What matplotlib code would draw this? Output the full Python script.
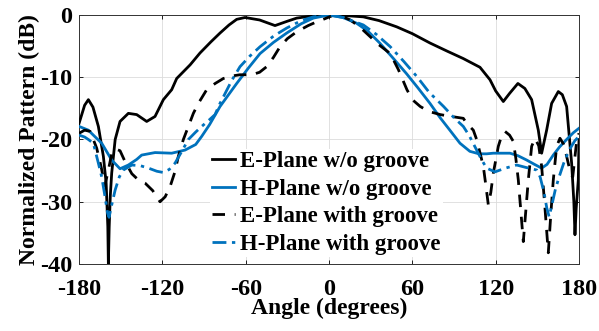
import matplotlib
matplotlib.use("Agg")
import matplotlib.pyplot as plt

# ---- data (angle in degrees, normalized pattern in dB) ----
e_wo_ang = [-180, -176, -173.3, -170, -166.1, -162.5, -160.5, -159.3, -158.9, -158.3, -157.5, -156.5, -154, -150.5,
            -144.5, -138.5, -131.3, -125.3, -119.3, -113.3, -109.7, -100, -92.9, -85, -78.5, -72, -66.5, -60.5,
            -50, -38.9, -30, -23.3, -12, 0, 12, 24.7, 36, 48.7, 60, 72.7, 85, 96.7, 108.7, 115.9, 120,
            125.5, 130, 136, 141, 145.9, 150.7, 153.1, 156.7, 160.3, 165.1, 168, 171.1, 174.7, 176.3, 177.1,
            178, 179.5, 180]
e_wo_db = [-17.4, -14.5, -13.6, -14.8, -17.9, -22.7, -27, -34, -40, -34, -29, -25.4, -20, -17.1,
           -15.8, -16, -17.1, -16.3, -13.6, -12, -10.2, -8, -6.1, -4.3, -2.9, -1.6, -0.7, -0.4,
           -0.8, -1.7, -1.0, -0.5, -0.15, 0, -0.1, -0.3, -0.9, -1.9, -3.0, -4.5, -5.8, -7, -8.4, -10.4, -12.2,
           -13.9, -12.6, -11, -11.8, -13.6, -18.5, -22.2, -18.5, -14.2, -12.3, -12.8, -14.7, -23.8, -30, -35.3,
           -31, -26.5, -20]

h_wo_ang = [-180, -173.3, -169.7, -163.7, -156.5, -150.5, -144.5, -138.5, -134.9, -125.3, -113.3, -103.7, -96,
            -91.7, -86, -78.5, -66.5, -58, -49.7, -40, -30.5, -20, -11.3, 0, 10, 19.7, 28, 36.5, 46, 55.7, 64,
            72.7, 80, 87, 94.3, 101.4, 108, 113.5, 118.3, 125.5, 130.3, 136, 142.3, 148, 153.1, 157, 161.5,
            166, 171.1, 176, 180]
h_wo_db = [-17.9, -18.5, -19.3, -20.6, -23.3, -24.7, -24.1, -23.2, -22.5, -22.1, -22.2, -21.7, -20.8,
           -19.5, -17.6, -14.7, -11, -8.5, -6.2, -4.4, -2.9, -1.4, -0.5, 0, -0.4, -1.3, -2.6, -4.5, -6.9, -9.4, -11.7,
           -14.2, -16.5, -18.5, -20.6, -21.9, -22.3, -22.3, -22.2, -22.2, -22.2, -22.6, -23.3, -24.0, -24.6, -24.0, -22.5,
           -21.2, -20, -18.9, -18.2]

e_w_ang = [-180, -176, -172, -167.3, -164, -161.5, -159, -156.5, -154, -150.5, -147, -142, -137.3, -132.5, -127,
           -121.7, -118, -114.5, -111, -108.5, -104.9, -101.3, -97.7, -94.1, -88.1, -82, -76.1, -70, -64.1, -55.7,
           -50, -44.9, -40, -35.3, -30, -23.3, -15, -8.9, -3, 3, 9, 15.3, 22, 29.7, 36, 44.1, 50, 56.1, 60,
           65.7, 72, 80.1, 88, 96.7, 99.1, 103.9, 106.3, 109, 111.1, 113, 114.7, 116.5, 118.3, 121.9, 124, 126.7,
           130, 132.7, 134.5, 136.3, 138.3, 139.9, 141.5, 143.5, 145.9, 148.3, 151, 153.1, 155.5, 157.9, 159.7,
           161.5, 163.9, 166.3, 169, 171.1, 174, 175.5, 178.3, 180]
e_w_db = [-19, -18.5, -18.7, -21.4, -24.5, -27.5, -25, -22.3, -21.5, -21.8, -23.5, -25.5, -26.5, -27, -28.2,
          -30, -29.2, -27.6, -25.2, -22.7, -20, -17.9, -15.8, -14.2, -12, -11, -10.2, -9.8, -9.6, -9.6,
          -9.2, -8.3, -6.8, -5.1, -3.8, -2.7, -1.7, -1.1, -0.6, -0.05, -0.2, -0.8, -1.9, -3.5, -4.8, -6.2, -8.8, -12, -13.6,
          -14.7, -15.5, -16, -16.3, -16.6, -17.4, -18.5, -20, -22.4, -24.3, -27.5, -30.5, -28.5, -25.4, -21.1, -19.6, -18.7,
          -19.3, -20.3, -23, -26.5, -32, -36.4, -32, -26.5, -21.1, -19.8, -21, -24.3, -31, -38.2, -32,
          -26.5, -21.1, -19.8, -20.8, -22.7, -25.5, -26, -20.3, -19]

h_w_ang = [-180, -176, -173.3, -169.7, -166.1, -163.7, -161.3, -159.5, -158.4, -157, -154, -151, -148.1, -142,
           -136, -130, -124, -119.3, -115, -110.9, -106, -101.3, -96, -91.7, -86, -82.1, -78.5, -70, -64.1, -57,
           -49.7, -40, -30.5, -20, -11.3, 0, 10, 24.7, 34, 44.1, 54, 63.3, 72, 82.5, 90, 96.7, 101, 106.3, 110,
           113.5, 119.5, 127, 135.1, 142, 149.5, 152, 154.9, 156.8, 158.5, 160.5, 163, 165.7, 169, 172.9, 177, 180]
h_w_db = [-19.3, -19.6, -20, -20.6, -23.8, -26, -29.2, -31.8, -32.5, -31, -28.1, -26, -24.9, -24.1,
          -24.2, -24.6, -25.1, -25.3, -24.8, -23.8, -21.9, -20, -18.8, -17.9, -16.8, -16, -14.2, -10.5, -8.3, -6.6,
          -5.1, -3.4, -2.1, -0.9, -0.3, 0, -0.4, -1.6, -3.1, -5.1, -7.5, -9.9, -12.4, -14.7, -16.5, -17.9, -19.4, -21.7, -23.3,
          -24.6, -25.2, -24.6, -24.1, -24.5, -24.9, -26, -28.6, -31, -32.4, -30.5, -28, -26, -23.8, -21.7, -20.2, -19.5]

labels = ["E-Plane w/o groove", "H-Plane w/o groove", "E-Plane with groove", "H-Plane with groove"]
xticks = [-180, -120, -60, 0, 60, 120, 180]
yticks = [-40, -30, -20, -10, 0]

# ---- styling ----
plt.rcParams['font.family'] = ['Liberation Serif', 'DejaVu Serif']
plt.rcParams['font.weight'] = 'bold'
blue = '#0072BD'

fig = plt.figure(figsize=(5.99, 3.31), dpi=100)
ax = fig.add_axes([0.132, 0.2024, 0.8346, 0.7523])

ax.plot(e_wo_ang, e_wo_db, color='black', lw=2.0, label=labels[0], zorder=4)
ax.plot(h_wo_ang, h_wo_db, color=blue, lw=2.0, label=labels[1], zorder=4)
ax.plot(e_w_ang, e_w_db, color='black', lw=2.0, ls=(0, (4.5, 3.5)), label=labels[2], zorder=4)
ax.plot(h_w_ang, h_w_db, color=blue, lw=2.0, ls=(0, (5, 2, 1.2, 2)), label=labels[3], zorder=4)

ax.set_xlim(-180, 180)
ax.set_ylim(-40, 0)
ax.set_xticks(xticks)
ax.set_yticks(yticks)
ax.set_xticklabels([str(t) for t in xticks])
ax.set_yticklabels([str(t) for t in yticks])
ax.tick_params(direction='in', top=True, right=True, labelsize=17.5, length=3, width=0.6,
               colors='black')
ax.tick_params(axis='x', pad=10.5)
ax.tick_params(axis='y', pad=5)
ax.grid(True, color='#dcdcdc', lw=0.6)
ax.set_axisbelow(True)
for s in ax.spines.values():
    s.set_linewidth(0.7)
    s.set_color('#333333')

ax.set_xlabel("Angle (degrees)", fontsize=17, fontweight='bold', labelpad=-1)
ax.set_ylabel("Normalized Pattern (dB)", fontsize=17, fontweight='bold', labelpad=0)

leg = ax.legend(loc='upper left', bbox_to_anchor=(0.262, 0.463), frameon=True,
                handlelength=1.0, handletextpad=0.2, labelspacing=0.29, borderpad=0.1,
                borderaxespad=0.0, prop={'weight': 'bold', 'size': 16.5})
leg.get_frame().set_facecolor('white')
leg.get_frame().set_edgecolor('none')
leg.get_frame().set_alpha(1.0)
leg.set_zorder(5)

fig.savefig("out.png", dpi=100)
